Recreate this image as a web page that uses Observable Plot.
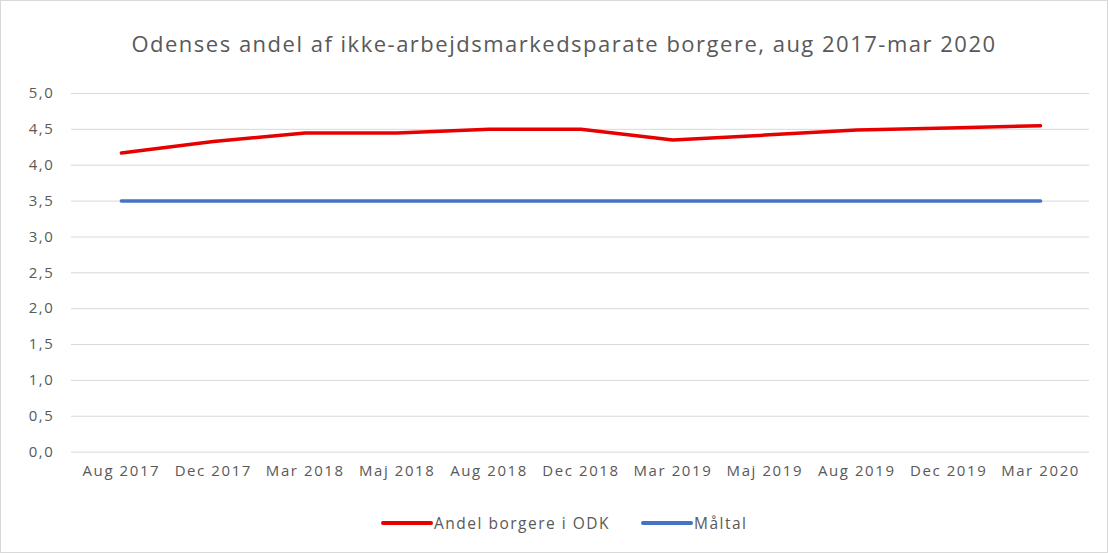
<!DOCTYPE html>
<html>
<head>
<meta charset="utf-8">
<script src="https://cdn.jsdelivr.net/npm/d3@7"></script>
<script src="https://cdn.jsdelivr.net/npm/@observablehq/plot@0.6"></script>
<style>
  html, body { margin: 0; padding: 0; background: #fff; }
  #wrap { position: relative; width: 1106px; height: 551px; border: 1px solid #d9d9d9; background: #fff; font-family: "Open Sans", Lato, sans-serif; }
  #title { position: absolute; left: 0; top: 27px; width: 1126px; text-align: center; font-size: 22px; color: #595959; font-family: "Open Sans", Lato, sans-serif; letter-spacing: 1.5px; }
  #chart { position: absolute; left: -1px; top: 69px; }
  #legend { position: absolute; top: 510px; left: 0; width: 1108px; height: 24px; font-size: 15.5px; color: #595959; letter-spacing: 1.5px; }
  .item { position: absolute; top: 0; display: flex; align-items: center; height: 24px; }
  .sw { display: inline-block; height: 4px; border-radius: 2px; margin-right: 1px; }
  #chart svg text { letter-spacing: 1.6px; }
</style>
</head>
<body>
<div id="wrap">
  <div id="title">Odenses andel af ikke-arbejdsmarkedsparate  borgere, aug 2017-mar 2020</div>
  <div id="chart"></div>
  <div id="legend"></div>
</div>
<script>
const categories = ["Aug 2017","Dec 2017","Mar 2018","Maj 2018","Aug 2018","Dec 2018","Mar 2019","Maj 2019","Aug 2019","Dec 2019","Mar 2020"];
const andelValues = [4.17, 4.33, 4.45, 4.45, 4.50, 4.50, 4.35, 4.42, 4.49, 4.52, 4.55];
const maltalValues = [3.5, 3.5, 3.5, 3.5, 3.5, 3.5, 3.5, 3.5, 3.5, 3.5, 3.5];
const yTicks = [0, 0.5, 1, 1.5, 2, 2.5, 3, 3.5, 4, 4.5, 5];
const seriesNames = ["Andel borgere i ODK", "Måltal"];
const seriesColors = ["#e60000", "#4472c4"];

const rows = [];
categories.forEach((c, i) => {
  rows.push({cat: c, value: andelValues[i], series: seriesNames[0]});
  rows.push({cat: c, value: maltalValues[i], series: seriesNames[1]});
});

const fmt = d => d.toFixed(1).replace(".", ",");

const chart = Plot.plot({
  width: 1108,
  height: 422,
  marginTop: 23,
  marginBottom: 40,
  marginLeft: 71,
  marginRight: 18,
  style: {fontFamily: "'Open Sans', Lato, sans-serif", fontSize: "15px", color: "#595959", background: "transparent"},
  x: {type: "point", domain: categories, padding: 0.5, label: null},
  y: {domain: [0, 5], ticks: yTicks, label: null, tickFormat: fmt},
  color: {domain: seriesNames, range: seriesColors},
  marks: [
    Plot.ruleY(yTicks, {stroke: "#d9d9d9", strokeWidth: 1}),
    Plot.axisY({ticks: yTicks, tickSize: 0, tickPadding: 17, tickFormat: fmt, label: null, fill: "#595959"}),
    Plot.axisX({tickSize: 0, tickPadding: 13, label: null, fill: "#595959"}),
    Plot.line(rows, {x: "cat", y: "value", z: "series", stroke: "series", strokeWidth: 3.5, strokeLinecap: "round", strokeLinejoin: "round"})
  ]
});
document.getElementById("chart").appendChild(chart);

const legend = document.getElementById("legend");
const lefts = [380, 640];
const swW = [52, 52];
seriesNames.forEach((n, i) => {
  const it = document.createElement("div");
  it.className = "item";
  it.style.left = lefts[i] + "px";
  const sw = document.createElement("span");
  sw.className = "sw";
  sw.style.width = swW[i] + "px";
  sw.style.background = seriesColors[i];
  it.appendChild(sw);
  const t = document.createElement("span");
  t.textContent = n;
  it.appendChild(t);
  legend.appendChild(it);
});
</script>
</body>
</html>
